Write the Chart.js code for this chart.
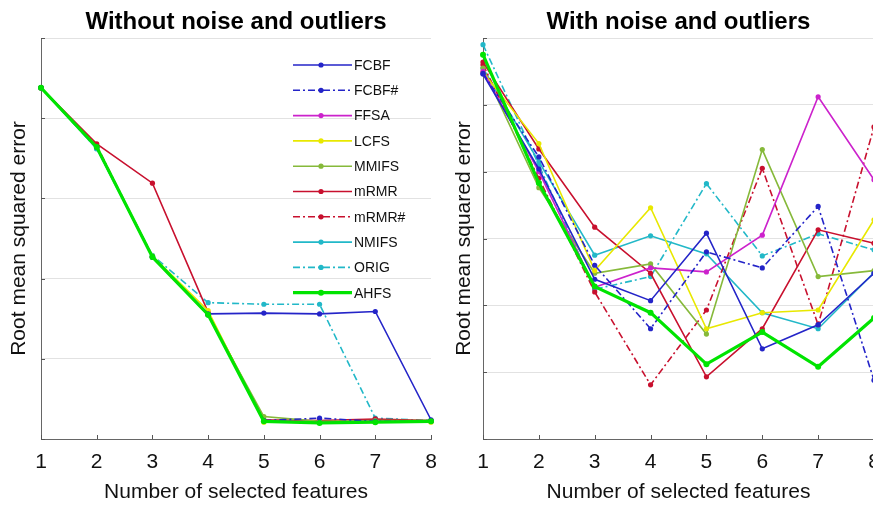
<!DOCTYPE html>
<html>
<head>
<meta charset="utf-8">
<title>RMSE vs number of selected features</title>
<script src="https://cdn.jsdelivr.net/npm/chart.js"></script>
<style>
  html, body { margin: 0; padding: 0; background: #fff; }
  #wrap { position: relative; width: 873px; height: 505px; overflow: hidden; }
  .box { position: absolute; top: 0; height: 505px; }
  #leftBox { left: 0; width: 440px; }
  #rightBox { left: 442px; width: 441px; }
</style>
</head>
<body>
<div id="wrap">
  <div class="box" id="leftBox"><canvas id="cleanChart"></canvas></div>
  <div class="box" id="rightBox"><canvas id="noisyChart"></canvas></div>
</div>
<script>
// number of selected features (x axis)
const featureCounts = ['1', '2', '3', '4', '5', '6', '7', '8'];
const methods = ['FCBF', 'FCBF#', 'FFSA', 'LCFS', 'MMIFS', 'mRMR', 'mRMR#', 'NMIFS', 'ORIG', 'AHFS'];

// RMSE without noise and outliers (y axis has no labels, read in grid units 0..5)
const cleanFCBF  = [4.38, 3.64, 2.27, 1.56, 1.57, 1.56, 1.59, 0.24];
const cleanFCBFh = [4.38, 3.64, 2.27, 1.55, 0.23, 0.26, 0.22, 0.22];
const cleanFFSA  = [4.38, 3.64, 2.27, 1.55, 0.23, 0.21, 0.22, 0.22];
const cleanLCFS  = [4.38, 3.64, 2.28, 1.60, 0.21, 0.21, 0.21, 0.21];
const cleanMMIFS = [4.38, 3.64, 2.27, 1.55, 0.28, 0.22, 0.23, 0.23];
const cleanMRMR  = [4.38, 3.68, 3.19, 1.58, 0.24, 0.23, 0.25, 0.23];
const cleanMRMRh = [4.38, 3.66, 2.27, 1.55, 0.23, 0.22, 0.24, 0.22];
const cleanNMIFS = [4.38, 3.62, 2.27, 1.55, 0.22, 0.21, 0.22, 0.22];
const cleanORIG  = [4.38, 3.62, 2.29, 1.70, 1.68, 1.68, 0.26, 0.23];
const cleanAHFS  = [4.38, 3.64, 2.27, 1.55, 0.22, 0.20, 0.21, 0.22];

// RMSE with noise and outliers (grid units 0..6)
const noisyFCBF  = [5.46, 4.04, 2.39, 2.07, 3.08, 1.35, 1.71, 2.48];
const noisyFCBFh = [5.47, 4.22, 2.60, 1.65, 2.80, 2.56, 3.48, 0.88];
const noisyFFSA  = [5.50, 4.00, 2.27, 2.56, 2.50, 3.05, 5.12, 3.88];
const noisyLCFS  = [5.49, 4.42, 2.52, 3.46, 1.65, 1.89, 1.93, 3.28];
const noisyMMIFS = [5.55, 3.76, 2.48, 2.62, 1.57, 4.33, 2.43, 2.52];
const noisyMRMR  = [5.64, 4.34, 3.17, 2.48, 0.93, 1.65, 3.13, 2.93];
const noisyMRMRh = [5.60, 3.90, 2.20, 0.81, 1.93, 4.05, 1.71, 4.67];
const noisyNMIFS = [5.55, 4.15, 2.75, 3.04, 2.77, 1.89, 1.65, 2.49];
const noisyORIG  = [5.90, 4.10, 2.24, 2.43, 3.82, 2.74, 3.07, 2.83];
const noisyAHFS  = [5.75, 3.83, 2.28, 1.89, 1.12, 1.60, 1.08, 1.81];

const cleanSeries = [cleanFCBF, cleanFCBFh, cleanFFSA, cleanLCFS, cleanMMIFS, cleanMRMR, cleanMRMRh, cleanNMIFS, cleanORIG, cleanAHFS];
const noisySeries = [noisyFCBF, noisyFCBFh, noisyFFSA, noisyLCFS, noisyMMIFS, noisyMRMR, noisyMRMRh, noisyNMIFS, noisyORIG, noisyAHFS];

// line styles per method
const colors = ['#2424c8', '#2424c8', '#cc22cc', '#e8e800', '#86b93a', '#c8102e', '#c8102e', '#22b8c8', '#22b8c8', '#00e400'];
const dashed = [false, true, false, false, false, false, true, false, true, false];
const DASHDOT = [7, 3, 2, 3];

Chart.defaults.font.family = '"Liberation Sans", Arial, sans-serif';
Chart.defaults.color = '#111';

function makeDatasets(series) {
  return series.map((vals, i) => {
    const thick = methods[i] === 'AHFS';
    return {
      label: methods[i],
      data: vals,
      borderColor: colors[i],
      backgroundColor: colors[i],
      borderWidth: thick ? 3.2 : 1.6,
      borderDash: dashed[i] ? DASHDOT : [],
      pointRadius: thick ? 3 : 2.6,
      pointBorderWidth: 0,
      pointStyle: 'circle',
      tension: 0,
      order: thick ? -1 : 0
    };
  });
}

// small inward ticks like the original axes
const innerTicks = {
  id: 'innerTicks',
  afterDraw(chart) {
    const ctx = chart.ctx;
    const xs = chart.scales.x, ys = chart.scales.y;
    const a = chart.chartArea;
    ctx.save();
    ctx.strokeStyle = '#555';
    ctx.lineWidth = 1;
    ctx.beginPath();
    xs.ticks.forEach((t, i) => {
      const px = Math.round(xs.getPixelForTick(i)) + 0.5;
      ctx.moveTo(px, a.bottom);
      ctx.lineTo(px, a.bottom - 4);
    });
    ys.ticks.forEach((t, i) => {
      const py = Math.round(ys.getPixelForTick(i)) + 0.5;
      ctx.moveTo(a.left, py);
      ctx.lineTo(a.left + 4, py);
    });
    ctx.stroke();
    ctx.restore();
  }
};

// legend drawn inside the left plot, one column
const insideLegend = {
  id: 'insideLegend',
  afterDraw(chart) {
    const ctx = chart.ctx;
    const a = chart.chartArea;
    const lx0 = a.left + 252, lx1 = a.left + 311, mx = a.left + 280, tx = a.left + 313;
    ctx.save();
    ctx.font = '14px "Liberation Sans", Arial, sans-serif';
    ctx.textBaseline = 'middle';
    ctx.textAlign = 'left';
    chart.data.datasets.forEach((ds, i) => {
      const y = a.top + 27 + i * 25.3;
      ctx.strokeStyle = ds.borderColor;
      ctx.lineWidth = ds.borderWidth;
      ctx.setLineDash(ds.borderDash);
      ctx.beginPath();
      ctx.moveTo(lx0, y);
      ctx.lineTo(lx1, y);
      ctx.stroke();
      ctx.setLineDash([]);
      ctx.fillStyle = ds.borderColor;
      ctx.beginPath();
      ctx.arc(mx, y, ds.pointRadius, 0, Math.PI * 2);
      ctx.fill();
      ctx.fillStyle = '#111';
      ctx.fillText(ds.label, tx, y + 1);
    });
    ctx.restore();
  }
};

function makeChart(id, series, title, yMax, yTitlePad, extraPlugins) {
  return new Chart(document.getElementById(id), {
    type: 'line',
    data: { labels: featureCounts, datasets: makeDatasets(series) },
    options: {
      responsive: true,
      maintainAspectRatio: false,
      animation: false,
      layout: { padding: { left: 0, right: 9, top: 0, bottom: 0 } },
      plugins: {
        legend: { display: false },
        tooltip: { enabled: false },
        title: {
          display: true,
          text: title,
          fullSize: false,
          font: { size: 24, weight: 'bold' },
          color: '#000',
          padding: { top: 8, bottom: 1.2 }
        }
      },
      scales: {
        x: {
          grid: { drawOnChartArea: false, drawTicks: false },
          border: { color: '#666', width: 1 },
          ticks: { font: { size: 21 }, color: '#111', padding: 11, maxRotation: 0 },
          title: { display: true, text: 'Number of selected features', font: { size: 21 }, color: '#111', padding: { top: 0, bottom: 0 } },
          afterFit(scale) {
            scale.height = 66;
            scale.paddingLeft = 0;
            scale.paddingRight = 0;
          }
        },
        y: {
          min: 0,
          max: yMax,
          grid: { color: '#e2e2e2', lineWidth: 1, drawTicks: false },
          border: { color: '#666', width: 1 },
          ticks: { display: false, stepSize: 1 },
          title: { display: true, text: 'Root mean squared error', font: { size: 21 }, color: '#111', padding: { top: yTitlePad, bottom: 0 } },
          afterFit(scale) { scale.width = 41; }
        }
      }
    },
    plugins: [innerTicks].concat(extraPlugins)
  });
}

makeChart('cleanChart', cleanSeries, 'Without noise and outliers', 5, 7, [insideLegend]);
makeChart('noisyChart', noisySeries, 'With noise and outliers', 6, 10, []);
</script>
</body>
</html>
